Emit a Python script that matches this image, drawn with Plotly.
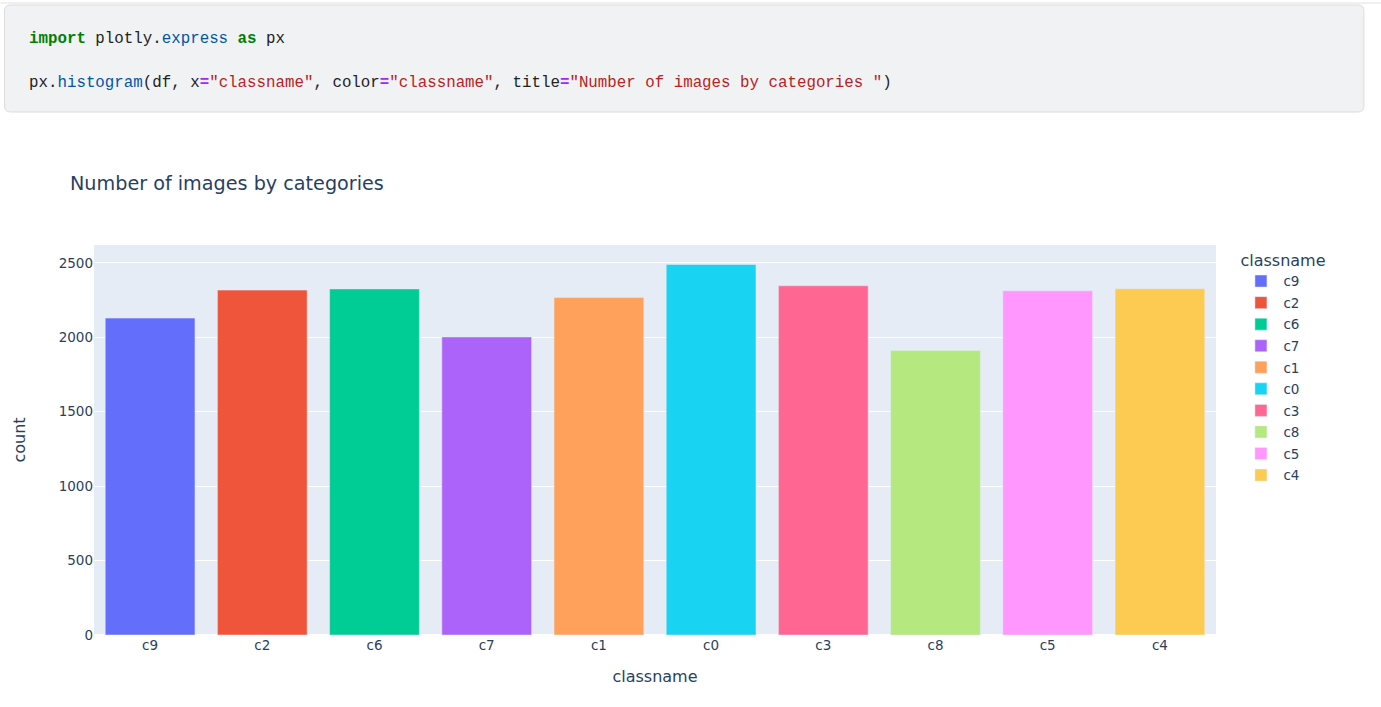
import plotly.graph_objects as go

categories = ["c9", "c2", "c6", "c7", "c1", "c0", "c3", "c8", "c5", "c4"]
counts = [2129, 2317, 2325, 2002, 2267, 2489, 2346, 1911, 2312, 2326]
colors = ["#636EFA", "#EF553B", "#00CC96", "#AB63FA", "#FFA15A",
          "#19D3F3", "#FF6692", "#B6E880", "#FF97FF", "#FECB52"]

W, H = 1381, 707
L, R, T, B = 93.5, 1216, 245, 635
FONT = "DejaVu Sans"
FS = 13.5

fig = go.Figure()
for cat, val, col in zip(categories, counts, colors):
    fig.add_trace(go.Bar(x=[cat], y=[val], name=cat, marker_color=col,
                         marker_line=dict(color="#E5ECF6", width=0.5),
                         legendgroup=cat))

def px2x(px):
    return (px - L) / (R - L)

def px2y(py):
    return (B - py) / (B - T)

# code cell box with rounded corners
x0, x1, y0, y1, r = 4, 1364, 5, 112, 6
def P(px, py):
    return f"{px2x(px):.6f},{px2y(py):.6f}"
path = (f"M {P(x0 + r, y0)} L {P(x1 - r, y0)} Q {P(x1, y0)} {P(x1, y0 + r)} "
        f"L {P(x1, y1 - r)} Q {P(x1, y1)} {P(x1 - r, y1)} "
        f"L {P(x0 + r, y1)} Q {P(x0, y1)} {P(x0, y1 - r)} "
        f"L {P(x0, y0 + r)} Q {P(x0, y0)} {P(x0 + r, y0)} Z")
shapes = [
    dict(type="line", xref="paper", yref="paper", x0=px2x(0), x1=px2x(W),
         y0=px2y(3), y1=px2y(3), line=dict(color="#e0e0e0", width=1)),
    dict(type="path", xref="paper", yref="paper", path=path,
         fillcolor="#f1f2f4", line=dict(color="#dcdcdc", width=1), layer="below"),
]

mono = "Liberation Mono"
kw = "color:#008000"
nm = "color:#0055aa"
op = "color:#aa22ff"
st = "color:#ba2121"
line1 = (f"<b><span style='{kw}'>import</span></b> plotly.<span style='{nm}'>express</span> "
         f"<b><span style='{kw}'>as</span></b> px")
line2 = (f"px.<span style='{nm}'>histogram</span>(df, x<b><span style='{op}'>=</span></b>"
         f"<span style='{st}'>\"classname\"</span>, color<b><span style='{op}'>=</span></b>"
         f"<span style='{st}'>\"classname\"</span>, title<b><span style='{op}'>=</span></b>"
         f"<span style='{st}'>\"Number of images by categories \"</span>)")
annotations = [
    dict(text=line1, xref="paper", yref="paper", x=px2x(26), y=px2y(38.5),
         xanchor="left", yanchor="middle", showarrow=False,
         font=dict(family=mono, size=15.8, color="#222222")),
    dict(text=line2, xref="paper", yref="paper", x=px2x(26), y=px2y(83.5),
         xanchor="left", yanchor="middle", showarrow=False,
         font=dict(family=mono, size=15.8, color="#222222")),
]

fig.update_layout(
    template="plotly",
    width=W, height=H,
    autosize=False,
    margin=dict(l=L, r=W - R, t=T, b=H - B, pad=0),
    font=dict(family=FONT, size=FS, color="#2a3f5f"),
    title=dict(text="Number of images by categories ", xref="container", yref="container",
               x=70 / W, xanchor="left", y=1 - 183 / H, yanchor="middle",
               font=dict(size=19.2, family=FONT)),
    barmode="relative",
    bargap=0.2,
    legend=dict(title=dict(text="classname"), tracegroupgap=1, font=dict(size=FS),
                x=1.02, itemwidth=35),
    xaxis=dict(title=dict(text="classname", standoff=19), categoryorder="array",
               categoryarray=categories),
    yaxis=dict(title=dict(text="count", standoff=29)),
    shapes=shapes,
    annotations=annotations,
)

fig.write_html("out.html")
